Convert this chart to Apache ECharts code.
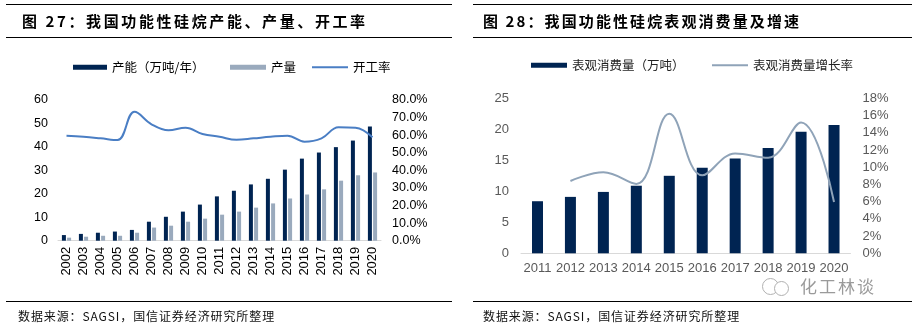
<!DOCTYPE html>
<html><head><meta charset="utf-8">
<script src="https://cdn.jsdelivr.net/npm/echarts@6/dist/echarts.min.js"></script>
<style>
html,body{margin:0;padding:0;background:#fff;}
#wrap{position:relative;width:918px;height:329px;overflow:hidden;}
#c{position:absolute;left:0;top:0;width:918px;height:329px;}
.t{position:absolute;font-family:"Noto Sans CJK SC","Liberation Sans",sans-serif;white-space:nowrap;color:#000;}
.title{font-size:15px;font-weight:bold;letter-spacing:2.6px;top:10px;}
.foot{font-size:12px;letter-spacing:0.9px;top:307px;color:#111;}
.hl{position:absolute;height:0;border-top:1.5px solid #000;}
</style></head>
<body><div id="wrap"><div id="c"></div>
<div class="hl" style="left:6px;width:446px;top:4px"></div>
<div class="hl" style="left:6px;width:446px;top:37px"></div>
<div class="hl" style="left:6px;width:446px;top:301px"></div>
<div class="hl" style="left:473px;width:439px;top:4px"></div>
<div class="hl" style="left:473px;width:439px;top:37px"></div>
<div class="hl" style="left:473px;width:439px;top:301px"></div>
<div class="t title" style="left:22px">图 27：我国功能性硅烷产能、产量、开工率</div>
<div class="t title" style="left:483px;letter-spacing:2.1px">图 28：我国功能性硅烷表观消费量及增速</div>
<div class="t foot" style="left:18px">数据来源：SAGSI，国信证券经济研究所整理</div>
<div class="t foot" style="left:483px">数据来源：SAGSI，国信证券经济研究所整理</div>
<div class="t" style="left:800px;top:273px;font-size:17px;color:#9a9a9a;letter-spacing:2px;">化工林谈</div>
</div>
<script>
// Chart 27 data
var years1 = ['2002','2003','2004','2005','2006','2007','2008','2009','2010','2011','2012','2013','2014','2015','2016','2017','2018','2019','2020'];
var capacity = [2.4,2.9,3.4,3.9,4.6,8.1,10.2,12.4,15.4,18.9,21.3,24.0,26.4,30.3,35.0,37.6,39.9,42.7,48.7];
var production = [1.3,1.7,2.1,2.1,3.4,5.6,6.4,8.1,9.4,11.1,12.4,14.1,15.9,18.0,19.7,21.9,25.6,27.9,29.1];
var utilization = [59.7,59.1,58.2,57.2,73.3,66.2,62.8,64.2,60.7,59.1,57.4,58.2,59.1,59.7,56.3,58.2,64.5,64.2,58.8];
// Chart 28 data
var years2 = ['2011','2012','2013','2014','2015','2016','2017','2018','2019','2020'];
var consumption = [8.4,9.1,9.9,10.9,12.5,13.8,15.3,17.0,19.6,20.7];
var growth = [null,8.4,9.4,8.05,16.2,9.05,11.6,11.1,15.2,5.95];

var navy = '#002452', grayBar = '#9AAABD', blueLine = '#4A7EC4', grayLine = '#8FA3B8';
var num = 'Liberation Sans, Arial, sans-serif';
var cjk = 'Noto Sans CJK SC, sans-serif';

var chart = echarts.init(document.getElementById('c'), null, {renderer:'canvas'});
function leg(name, left, top, w, h, color){
  return {data:[name], left:left, top:top, itemWidth:w, itemHeight:h, itemGap:0, padding:0,
    icon:'rect', textStyle:{fontFamily:cjk, fontSize:12.5, color:color}, selectedMode:false};
}
chart.setOption({
  animation:false,
  legend:[
    leg('产能（万吨/年）',73,61,34,5,'#000'),
    leg('产量',230,61,36,5,'#000'),
    leg('开工率',312,61,36,2,'#000'),
    leg('表观消费量（万吨）',531,59,36,5,'#222'),
    leg('表观消费量增长率',712,59,36,2,'#222')
  ],
  grid:[
    {left:58, top:100, width:323, height:140.7},
    {left:521, top:98.3, width:329.5, height:155}
  ],
  xAxis:[
    {type:'category', gridIndex:0, data:years1,
     axisLine:{lineStyle:{color:'#D9D9D9', width:1}}, axisTick:{show:false},
     axisLabel:{rotate:90, fontFamily:num, fontSize:13, color:'#000', margin:6, interval:0}},
    {type:'category', gridIndex:1, data:years2,
     axisLine:{lineStyle:{color:'#D9D9D9', width:1}}, axisTick:{show:false},
     axisLabel:{fontFamily:num, fontSize:13, color:'#595959', margin:9, interval:0}}
  ],
  yAxis:[
    {type:'value', gridIndex:0, min:0, max:60, interval:10, splitLine:{show:false},
     axisLine:{show:false}, axisTick:{show:false},
     axisLabel:{fontFamily:num, fontSize:12.5, color:'#000', margin:10}},
    {type:'value', gridIndex:0, min:0, max:80, interval:10, position:'right', splitLine:{show:false},
     axisLine:{show:false}, axisTick:{show:false},
     axisLabel:{fontFamily:num, fontSize:12.5, color:'#000', margin:11, formatter:function(v){return v.toFixed(1)+'%';}}},
    {type:'value', gridIndex:1, min:0, max:25, interval:5, splitLine:{show:false},
     axisLine:{show:false}, axisTick:{show:false},
     axisLabel:{fontFamily:num, fontSize:13, color:'#595959', margin:12}},
    {type:'value', gridIndex:1, min:0, max:18, interval:2, position:'right', splitLine:{show:false},
     axisLine:{show:false}, axisTick:{show:false},
     axisLabel:{fontFamily:num, fontSize:13, color:'#595959', margin:12, formatter:function(v){return v+'%';}}}
  ],
  series:[
    {name:'产能（万吨/年）', type:'bar', xAxisIndex:0, yAxisIndex:0, data:capacity,
     barWidth:4, barGap:'30%', itemStyle:{color:navy}},
    {name:'产量', type:'bar', xAxisIndex:0, yAxisIndex:0, data:production,
     barWidth:4, barGap:'30%', itemStyle:{color:grayBar}},
    {name:'开工率', type:'line', xAxisIndex:0, yAxisIndex:1, data:utilization,
     smooth:0.4, symbol:'none', lineStyle:{color:blueLine, width:2}, itemStyle:{color:blueLine}},
    {name:'表观消费量（万吨）', type:'bar', xAxisIndex:1, yAxisIndex:2, data:consumption,
     barWidth:11, itemStyle:{color:navy}},
    {name:'表观消费量增长率', type:'line', xAxisIndex:1, yAxisIndex:3, data:growth,
     smooth:0.4, symbol:'none', connectNulls:false, lineStyle:{color:grayLine, width:2}, itemStyle:{color:grayLine}}
  ],
  graphic:[
    {type:'circle', left:760, top:276, shape:{r:8}, style:{fill:'none', stroke:'#b0b0b0', lineWidth:1}},
    {type:'circle', left:774, top:281, shape:{r:7}, style:{fill:'#fff', stroke:'#b0b0b0', lineWidth:1}}
  ]
});
</script></body></html>
